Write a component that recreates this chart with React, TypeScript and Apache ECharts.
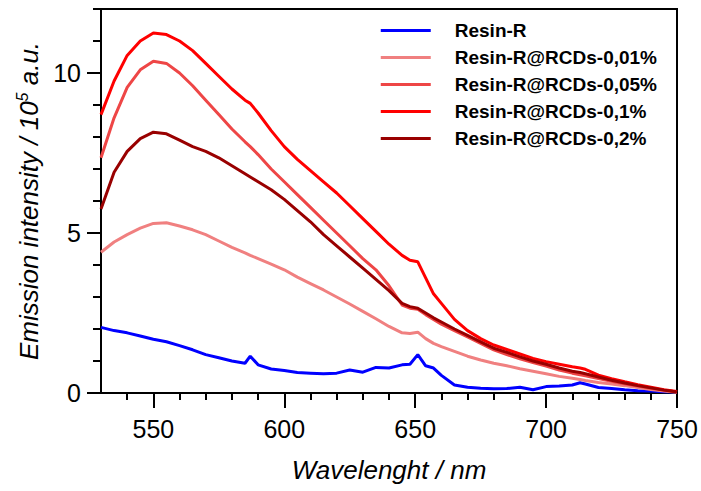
import React, { useEffect, useRef } from "react";
import * as echarts from "echarts";

const wavelengths = [530,535,540,545,550,555,560,565,570,575,580,585,587,590,595,600,605,610,615,620,625,630,635,640,645,648,651,654,657,660,665,670,675,680,685,690,695,700,705,710,713,715,720,725,730,735,740,745,750];

const resinR = [2.05,1.95,1.88,1.78,1.68,1.6,1.48,1.35,1.2,1.1,1.0,0.93,1.15,0.88,0.75,0.7,0.64,0.62,0.6,0.62,0.72,0.65,0.8,0.78,0.88,0.9,1.2,0.85,0.78,0.55,0.25,0.18,0.15,0.13,0.14,0.18,0.1,0.2,0.22,0.25,0.32,0.28,0.17,0.14,0.1,0.07,0.06,0.04,0.03];
const rcds001 = [4.4,4.72,4.95,5.15,5.3,5.32,5.22,5.1,4.95,4.75,4.55,4.38,4.3,4.2,4.03,3.85,3.62,3.42,3.22,3.0,2.78,2.55,2.32,2.08,1.88,1.86,1.9,1.7,1.55,1.45,1.3,1.15,1.03,0.93,0.85,0.76,0.68,0.6,0.52,0.46,0.42,0.39,0.33,0.28,0.23,0.17,0.11,0.06,0.02];
const rcds005 = [7.35,8.6,9.55,10.1,10.37,10.3,10.0,9.6,9.15,8.7,8.25,7.85,7.7,7.45,7.0,6.6,6.2,5.8,5.4,5.0,4.6,4.2,3.85,3.35,2.75,2.65,2.62,2.45,2.3,2.15,1.95,1.75,1.55,1.35,1.2,1.07,0.95,0.84,0.72,0.62,0.57,0.54,0.45,0.37,0.29,0.22,0.15,0.09,0.03];
const rcds01 = [8.7,9.75,10.55,11.0,11.25,11.2,11.0,10.7,10.3,9.9,9.5,9.15,9.05,8.75,8.2,7.7,7.3,6.95,6.6,6.25,5.85,5.45,5.05,4.65,4.3,4.15,4.1,3.6,3.1,2.8,2.3,1.95,1.7,1.5,1.36,1.22,1.08,0.98,0.9,0.82,0.78,0.74,0.56,0.45,0.35,0.26,0.18,0.1,0.05];
const rcds02 = [5.75,6.9,7.55,7.95,8.15,8.1,7.9,7.7,7.55,7.35,7.1,6.85,6.75,6.6,6.35,6.05,5.7,5.35,4.95,4.6,4.25,3.9,3.55,3.2,2.8,2.7,2.65,2.5,2.35,2.22,2.0,1.8,1.6,1.4,1.27,1.13,1.0,0.9,0.78,0.68,0.64,0.6,0.5,0.4,0.31,0.23,0.16,0.09,0.03];

const seriesNames = ["Resin-R","Resin-R@RCDs-0,01%","Resin-R@RCDs-0,05%","Resin-R@RCDs-0,1%","Resin-R@RCDs-0,2%"];
const seriesValues = [resinR, rcds001, rcds005, rcds01, rcds02];
const seriesColors = ["#0000ff","#f08080","#ee4646","#ff0000","#990000"];

const xMajorTicks = [550,600,650,700,750];
const xMinorTicks = [540,560,570,580,590,610,620,630,640,660,670,680,690,710,720,730,740];
const yMajorTicks = [0,5,10];
const yMinorTicks = [1,2,3,4,6,7,8,9,11,12];

const FONT = "'Liberation Sans', Arial, sans-serif";

export default function App() {
  const ref = useRef<HTMLDivElement>(null);
  useEffect(() => {
    document.body.style.margin = "0";
    if (!ref.current) return;
    const chart = echarts.init(ref.current, null, { renderer: "svg" });
    const axisLineStyle = { color: "#000", width: 2 };
    chart.setOption({
      animation: false,
      grid: { left: 101, right: 24, top: 9, bottom: 98, show: true, borderColor: "#000", borderWidth: 2 },
      legend: {
        orient: "vertical",
        right: 39,
        top: 16,
        itemWidth: 50,
        itemHeight: 3,
        itemGap: 8,
        icon: "rect",
        data: seriesNames,
        textStyle: { fontFamily: FONT, fontWeight: "bold", fontSize: 19, lineHeight: 19, color: "#000", padding: [0, 0, 0, 19] },
      },
      xAxis: [
        {
          type: "value", min: 530, max: 750,
          axisLine: { lineStyle: axisLineStyle },
          axisTick: { customValues: xMajorTicks, length: 15, lineStyle: axisLineStyle },
          axisLabel: { customValues: xMajorTicks, fontSize: 25, color: "#000", margin: 23, fontFamily: FONT },
          splitLine: { show: false },
          name: "Wavelenght / nm", nameLocation: "middle", nameGap: 64,
          nameTextStyle: { fontSize: 26, fontStyle: "italic", color: "#000", fontFamily: FONT },
        },
        {
          type: "value", min: 530, max: 750, position: "bottom",
          axisLine: { show: false },
          axisTick: { customValues: xMinorTicks, length: 7, lineStyle: axisLineStyle },
          axisLabel: { show: false },
          splitLine: { show: false },
        },
      ],
      yAxis: [
        {
          type: "value", min: 0, max: 12,
          axisLine: { show: true, lineStyle: axisLineStyle },
          axisTick: { show: true, customValues: yMajorTicks, length: 14, lineStyle: axisLineStyle },
          axisLabel: { customValues: yMajorTicks, fontSize: 25, color: "#000", margin: 20, fontFamily: FONT },
          splitLine: { show: false },
          name: "{a|Emission intensity / 10}{s|5}{a| a.u.}", nameLocation: "middle", nameGap: 50,
          nameTextStyle: {
            fontFamily: FONT, color: "#000",
            rich: {
              a: { fontSize: 26, fontStyle: "italic", fontFamily: FONT, color: "#000", lineHeight: 30 },
              s: { fontSize: 16, fontStyle: "italic", fontFamily: FONT, color: "#000", lineHeight: 16, verticalAlign: "top" },
            },
          },
        },
        {
          type: "value", min: 0, max: 12, position: "left",
          axisLine: { show: false },
          axisTick: { show: true, customValues: yMinorTicks, length: 8, lineStyle: axisLineStyle },
          axisLabel: { show: false },
          splitLine: { show: false },
        },
      ],
      series: seriesNames.map((name, i) => ({
        name,
        type: "line",
        xAxisIndex: 0,
        yAxisIndex: 0,
        symbol: "none",
        showSymbol: false,
        color: seriesColors[i],
        lineStyle: { width: 3, color: seriesColors[i] },
        data: wavelengths.map((w, j) => [w, seriesValues[i][j]]),
      })),
    });
    return () => chart.dispose();
  }, []);
  return <div ref={ref} style={{ width: 701, height: 491 }} />;
}
